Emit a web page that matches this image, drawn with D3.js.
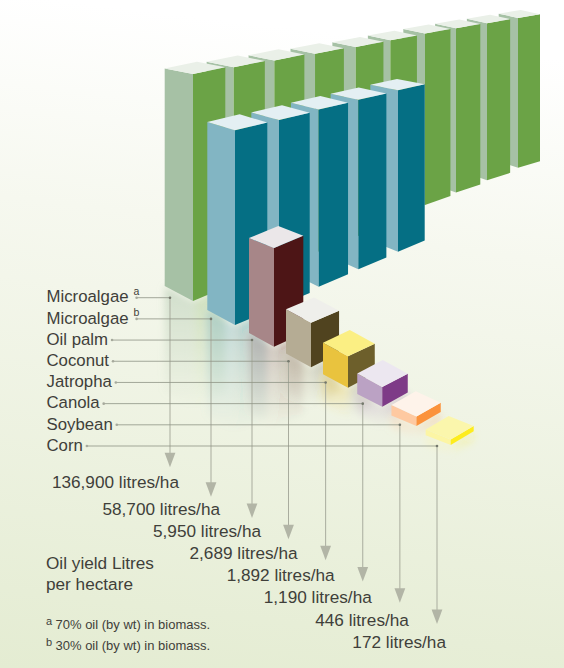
<!DOCTYPE html>
<html>
<head>
<meta charset="utf-8">
<script src="https://cdn.jsdelivr.net/npm/d3@7"></script>
<style>
html, body { margin: 0; padding: 0; background: #fff; }
svg { display: block; }
text { font-family: "Liberation Sans", Arial, sans-serif; fill: #3f3f3a; }
</style>
</head>
<body>
<div id="chart"></div>
<script>
var crops = ["Microalgae", "Microalgae", "Oil palm", "Coconut", "Jatropha", "Canola", "Soybean", "Corn"];
var marks = ["a", "b", "", "", "", "", "", ""];
var yields = [136900, 58700, 5950, 2689, 1892, 1190, 446, 172];
var columns = [10, 5, 1, 1, 1, 1, 1, 1];
var notes = ["70% oil (by wt) in biomass.", "30% oil (by wt) in biomass."];
var yieldTitle = ["Oil yield Litres", "per hectare"];

var leftColors = ["#a6c1a5", "#82b5c3", "#a78688", "#b5ac94", "#e9c33e", "#bba2c4", "#fec9a1", "#fcf5a4"];
var rightColors = ["#6ba346", "#056f84", "#4d1516", "#50431f", "#6d5f2b", "#7e3b87", "#fb923c", "#fdec1e"];
var topColors = ["#eaf0e8", "#e4eff3", "#ebe7e9", "#efefeb", "#fbef83", "#ece7f0", "#fef3ea", "#fbf6ac"];

var width = 564, height = 668;

var svg = d3.select("#chart").append("svg")
    .attr("width", width)
    .attr("height", height);

var defs = svg.append("defs");

var bg = defs.append("linearGradient")
    .attr("id", "bg")
    .attr("x1", 0.1).attr("y1", 0)
    .attr("x2", 0).attr("y2", 1);
bg.append("stop").attr("offset", 0).attr("stop-color", "#ffffff");
bg.append("stop").attr("offset", 0.3).attr("stop-color", "#f6f8ef");
bg.append("stop").attr("offset", 1).attr("stop-color", "#e4ecd2");

defs.append("filter")
    .attr("id", "blur")
    .attr("x", "-30%").attr("y", "-30%")
    .attr("width", "160%").attr("height", "160%")
    .append("feGaussianBlur").attr("stdDeviation", 3.5);

svg.append("rect")
    .attr("width", width)
    .attr("height", height)
    .attr("fill", "url(#bg)");

// litres per column -> height of a column at the front of the picture
var heightScale = d3.scaleLinear()
    .domain([0, 172, 1190, 13690])
    .range([3, 5.5, 19.7, 227]);

// edges get steeper the lower they sit in the picture
var slopeLeft = d3.scaleLinear()
    .domain([20, 90, 130, 250, 300, 350, 400, 425, 450])
    .range([0.22, 0.19, 0.3, 0.4, 0.53, 0.55, 0.54, 0.42, 0.38])
    .clamp(true);
var slopeRight = d3.scaleLinear()
    .domain([20, 90, 130, 250, 325, 400, 450])
    .range([0.17, 0.22, 0.24, 0.42, 0.42, 0.55, 0.6])
    .clamp(true);

// the three rows of bars, going back into the picture
var greenRow = {
    x: d3.scaleLinear().domain([0, 4, 6, 9]).range([193, 355.7, 425, 518]),
    bottom: d3.scaleLinear().domain([0, 6, 9]).range([301, 205, 167.7]),
    depth: d3.scaleLinear().domain([0, 6, 9]).range([1, 0.755, 0.66]),
    left: d3.scaleLinear().domain([0, 4, 9]).range([28.3, 23.3, 19.3]),
    right: d3.scaleLinear().domain([0, 9]).range([32.3, 22])
};
var blueRow = {
    x: d3.scaleLinear().domain([0, 1, 4]).range([235, 279, 398]),
    bottom: d3.scaleLinear().domain([0, 2, 4]).range([325, 286.7, 251.7]),
    depth: d3.scaleLinear().domain([0, 2, 4]).range([1, 0.91, 0.83]),
    left: d3.scaleLinear().domain([0, 4]).range([27.7, 27.7]),
    right: d3.scaleLinear().domain([0, 1, 4]).range([32.3, 30.7, 26.7])
};
var smallRow = {
    x: d3.scaleLinear().domain([0, 2, 5]).range([274, 348, 450.7]),
    bottom: d3.scaleLinear().domain([0, 2, 5]).range([346.7, 387.7, 445]),
    depth: d3.scaleLinear().domain([0, 5]).range([1, 1]),
    left: d3.scaleLinear().domain([0, 5]).range([25, 25]),
    right: d3.scaleLinear().domain([0, 5]).range([29.3, 23])
};

// one box per column, back to front so nearer ones paint over
var boxes = [];
yields.forEach(function(y, c) {
    var row = c == 0 ? greenRow : c == 1 ? blueRow : smallRow;
    var perColumn = y / columns[c];
    var n = columns[c];
    for (var k = n - 1; k >= 0; k--) {
        var i = c < 2 ? k : c - 2;
        boxes.push({
            crop: c,
            front: k == 0,
            x: row.x(i),
            y: row.bottom(i),
            h: heightScale(perColumn) * row.depth(i),
            wl: row.left(i),
            wr: row.right(i)
        });
    }
});

function pts(list) {
    return "M" + list.map(function(p) { return p[0] + "," + p[1]; }).join("L") + "Z";
}

// reflections on the floor
var fade = defs.selectAll(".fade")
    .data(d3.merge(crops.map(function(c, i) {
        return [
            { id: "fl" + i, color: leftColors[i], o: 0.45 },
            { id: "fr" + i, color: rightColors[i], o: 0.28 }
        ];
    })))
    .enter().append("linearGradient")
    .attr("id", function(d) { return d.id; })
    .attr("x1", 0).attr("y1", 0)
    .attr("x2", 0).attr("y2", 1);
fade.append("stop").attr("offset", 0)
    .attr("stop-color", function(d) { return d.color; })
    .attr("stop-opacity", function(d) { return d.o; });
fade.append("stop").attr("offset", 1)
    .attr("stop-color", function(d) { return d.color; })
    .attr("stop-opacity", 0);

var glow = svg.append("g").attr("filter", "url(#blur)");
boxes.filter(function(b) { return b.front; }).forEach(function(b) {
    var len = Math.min(b.h * 0.75, 100) + 6;
    var bl = b.y - b.wl * slopeLeft(b.y);
    var br = b.y - b.wr * slopeRight(b.y);
    glow.append("path")
        .attr("d", pts([[b.x - b.wl, bl], [b.x, b.y], [b.x, b.y + len], [b.x - b.wl, bl + len]]))
        .attr("fill", "url(#fl" + b.crop + ")");
    glow.append("path")
        .attr("d", pts([[b.x, b.y], [b.x + b.wr, br], [b.x + b.wr, br + len], [b.x, b.y + len]]))
        .attr("fill", "url(#fr" + b.crop + ")");
});

// the boxes
var box = svg.append("g").selectAll("g")
    .data(boxes)
    .enter().append("g");

function corners(b) {
    var t = b.y - b.h;
    return {
        t: [b.x, t],
        b: [b.x, b.y],
        tl: [b.x - b.wl, t - b.wl * slopeLeft(t)],
        tr: [b.x + b.wr, t - b.wr * slopeRight(t)],
        bl: [b.x - b.wl, b.y - b.wl * slopeLeft(b.y)],
        br: [b.x + b.wr, b.y - b.wr * slopeRight(b.y)]
    };
}

box.append("path")
    .attr("d", function(b) {
        var c = corners(b);
        return pts([c.tl, c.t, c.b, c.bl]);
    })
    .attr("fill", function(b) { return leftColors[b.crop]; });

box.append("path")
    .attr("d", function(b) {
        var c = corners(b);
        return pts([c.t, c.tr, c.br, c.b]);
    })
    .attr("fill", function(b) { return rightColors[b.crop]; });

box.append("path")
    .attr("d", function(b) {
        var c = corners(b);
        var back = [c.tl[0] + c.tr[0] - c.t[0], c.tl[1] + c.tr[1] - c.t[1]];
        return pts([c.tl, back, c.tr, c.t]);
    })
    .attr("fill", function(b) { return topColors[b.crop]; });

// labels and leader lines
var rowY = d3.scaleLinear().domain([0, 7]).range([297.7, 446]);
var leaderX = d3.scaleLinear().domain([0, 2, 3, 7]).range([170, 252, 288.5, 437]);
var tipY = d3.scaleLinear().domain([0, 1, 7]).range([467.3, 496.7, 624]);
var valueY = d3.scaleLinear().domain([0, 1, 7]).range([487.7, 514.7, 647.7]);
var fmt = d3.format(",");

var lines = svg.append("g");
var labels = svg.append("g");

crops.forEach(function(name, i) {
    var label = labels.append("text")
        .attr("x", 46.5)
        .attr("y", rowY(i) + 4.7)
        .attr("font-size", 16.8)
        .text(name);
    var end = 46.5 + label.node().getComputedTextLength();
    if (marks[i]) {
        labels.append("text")
            .attr("x", end + 5)
            .attr("y", rowY(i) - 2.5)
            .attr("font-size", 10.5)
            .text(marks[i]);
        end += 4;
    }
    lines.append("line")
        .attr("x1", end + 4).attr("x2", leaderX(i))
        .attr("y1", rowY(i)).attr("y2", rowY(i))
        .attr("stroke", "#8f9386")
        .attr("stroke-opacity", 0.8)
        .attr("stroke-width", 1);
    lines.append("line")
        .attr("x1", leaderX(i)).attr("x2", leaderX(i))
        .attr("y1", rowY(i)).attr("y2", tipY(i) - 8)
        .attr("stroke", "#a9ac9e")
        .attr("stroke-width", 1);
    lines.append("path")
        .attr("d", pts([[leaderX(i) - 5.4, tipY(i) - 14.5], [leaderX(i) + 5.4, tipY(i) - 14.5], [leaderX(i), tipY(i)]]))
        .attr("fill", "#b2b5a6");
    lines.append("circle")
        .attr("cx", end + 4).attr("cy", rowY(i)).attr("r", 1.3)
        .attr("fill", "#a6a99c");
    lines.append("circle")
        .attr("cx", leaderX(i)).attr("cy", rowY(i)).attr("r", 1.3)
        .attr("fill", "#74786c");
    labels.append("text")
        .attr("x", leaderX(i) + 9)
        .attr("y", valueY(i))
        .attr("text-anchor", "end")
        .attr("font-size", 17.2)
        .text(fmt(yields[i]) + " litres/ha");
});

yieldTitle.forEach(function(t, i) {
    labels.append("text")
        .attr("x", 46)
        .attr("y", 568.7 + i * 21)
        .attr("font-size", 17.2)
        .text(t);
});

notes.forEach(function(t, i) {
    labels.append("text")
        .attr("x", 46)
        .attr("y", 625 + i * 21)
        .attr("font-size", 11)
        .text(marks[i]);
    labels.append("text")
        .attr("x", 55.5)
        .attr("y", 629 + i * 21)
        .attr("font-size", 13)
        .text(t);
});
</script>
</body>
</html>
